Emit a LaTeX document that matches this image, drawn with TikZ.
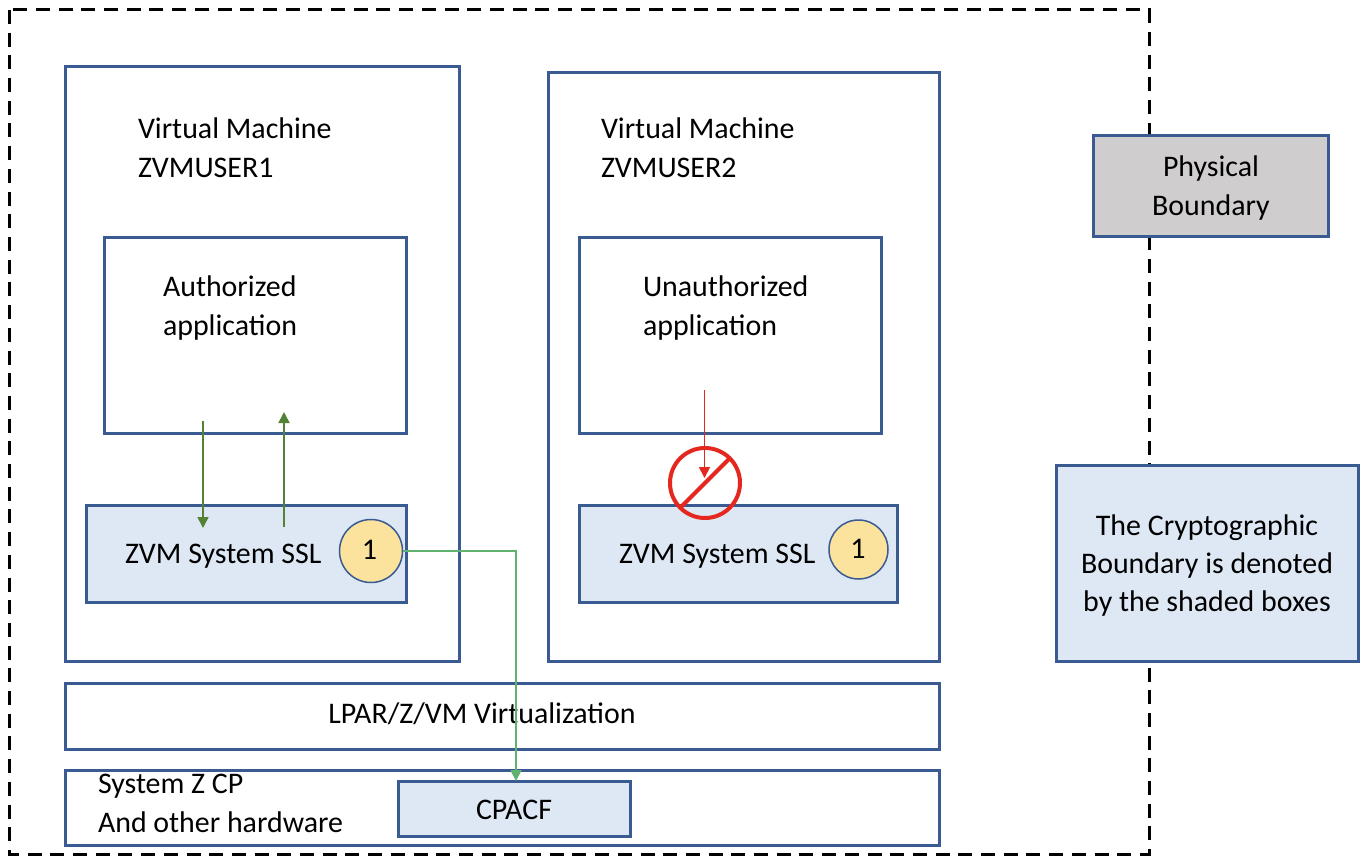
\documentclass[tikz,border=0pt]{standalone}
\usepackage{fontspec}
\setmainfont{Carlito}
\usetikzlibrary{arrows.meta,calc}
\definecolor{bluebox}{HTML}{3A5A92}
\definecolor{paleblue}{HTML}{DEE8F4}
\definecolor{greybox}{HTML}{CFCDCE}
\definecolor{gold}{HTML}{FBE29D}
\definecolor{darkgrn}{HTML}{548235}
\definecolor{litegrn}{HTML}{5FB36F}
\definecolor{redline}{HTML}{E4281F}
\tikzset{
  x=1pt,y=-1pt,
  box/.style={draw=bluebox,line width=3pt,fill=white,inner sep=0pt,outer sep=0pt,rectangle},
  shaded/.style={box,fill=paleblue},
  greyed/.style={box,fill=greybox},
  badge/.style={circle,draw=bluebox,line width=1.5pt,fill=gold,inner sep=0pt,outer sep=0pt,font=\fontsize{30}{30}\selectfont},
  label/.style={inner sep=0pt,outer sep=0pt,font=\fontsize{29.9}{39}\selectfont,text=black,align=left},
  clabel/.style={label,align=center},
  greenarrow/.style={draw=darkgrn,line width=1.6pt,-{Triangle[length=11pt,width=11pt]}},
  linkarrow/.style={draw=litegrn,line width=1.8pt,-{Triangle[length=11pt,width=11pt]}},
  redarrow/.style={draw=redline,line width=1.8pt,-{Triangle[length=11pt,width=11pt]}},
  nosign/.style={circle,draw=redline,line width=4pt,inner sep=0pt,outer sep=0pt,minimum size=70pt},
  boundary/.style={draw=black,line width=3pt,dash pattern=on 14pt off 8.7pt}
}
\newcommand{\pbox}[6]{\node[#1,minimum width=#5-#3-1,minimum height=#6-#4-0.4] (#2) at ({(#3+#5)/2-0.5},{(#4+#6)/2-0.2}) {};}
\begin{document}
\begin{tikzpicture}
\useasboundingbox (0,0) rectangle (1361,856);
\fill[white] (0,0) rectangle (1361,856);
\coordinate (bnw) at (9,10);
\coordinate (bse) at (1149,854);
\draw[boundary] (bnw) rectangle (bse);

\pbox{box}{vmone}{65}{67}{460}{662}
\pbox{box}{vmtwo}{548}{73}{940}{662}
\pbox{box}{appone}{104}{237}{407}{434}
\pbox{box}{apptwo}{579}{237}{882}{434}
\pbox{shaded}{sslone}{86}{505}{407}{603}
\pbox{shaded}{ssltwo}{579}{505}{898}{603}
\pbox{box}{lpar}{65}{683}{940}{750}
\pbox{box}{sysz}{65}{770}{940}{846}
\pbox{shaded}{cpacf}{398}{781}{631}{837}
\pbox{greyed}{phys}{1093}{136}{1329}{237}
\pbox{shaded}{crypt}{1056}{465}{1359}{662}

\node[badge,minimum size=63pt] (cone) at (371,551) {\raisebox{2pt}{\kern-3pt 1}};
\node[badge,minimum size=59pt] (ctwo) at (858.5,549.5) {\raisebox{2pt}{\kern-1pt 1}};

\node[label,anchor=west] (tvmone) at (138,148) {Virtual Machine\\ZVMUSER1};
\node[label,anchor=west] (tvmtwo) at (601,148) {Virtual Machine\\ZVMUSER2};
\node[label,anchor=west] (tappone) at (163,308) {Authorized\\application};
\node[label,anchor=west] (tapptwo) at (643,308) {Unauthorized\\application};
\node[label,anchor=west] (tsslone) at (125,556) {ZVM System SSL};
\node[label,anchor=west] (tssltwo) at (619,556) {ZVM System SSL};
\node[clabel] (tlpar) at (482,714) {LPAR/Z/VM Virtualization};
\node[label,anchor=west] (tsys) at (98,803) {System Z CP\\And other hardware};
\node[clabel] (tcpacf) at (514,809.5) {CPACF};
\node[clabel] (tphys) at (1211,188) {Physical\\Boundary};
\node[clabel,font=\fontsize{29.9}{38}\selectfont] (tcrypt) at (1207,566) {The Cryptographic\\Boundary is denoted\\by the shaded boxes};

\coordinate (aone) at (203,421);
\coordinate (atwo) at (203,528);
\coordinate (bone) at (284,527);
\coordinate (btwo) at (284,412);
\coordinate (cin) at (516,781);
\coordinate (rone) at (704.5,390);
\coordinate (rtwo) at (704.5,478);

\draw[greenarrow] (aone) -- (atwo);
\draw[greenarrow] (bone) -- (btwo);
\draw[linkarrow] (cone.east) -| (cin);

\node[nosign] (stop) at (705,483) {};
\draw[redline,line width=4pt] (stop.225) -- (stop.45);
\draw[redarrow] (rone) -- (rtwo);
\end{tikzpicture}
\end{document}
